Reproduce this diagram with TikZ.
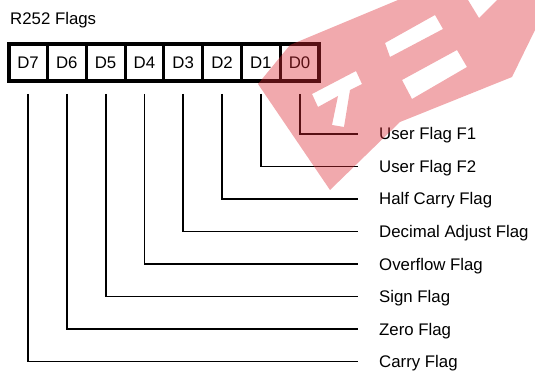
\documentclass[tikz,border=0pt]{standalone}
\usepackage{fontspec}
\setmainfont{Liberation Sans}
\usetikzlibrary{calc}
\definecolor{wm}{RGB}{220,40,50}
\begin{document}
\begin{tikzpicture}[x=1pt,y=-1pt,
  font=\fontsize{16.8}{20}\selectfont,
  cell/.style={draw, line width=3pt, minimum width=38.8pt, minimum height=37pt, inner sep=0pt, outer sep=0pt},
  flag/.style={anchor=west, inner sep=0pt, text height=12pt, text depth=0pt},
  conn/.style={line width=1.8pt}]
\useasboundingbox (0,0) rectangle (535,371);
\node[anchor=base west, inner sep=0pt] (title) at (10,24.5) {R252 Flags};
\foreach \i [count=\k from 0] in {7,6,5,4,3,2,1,0}
  \node[cell] (c\i) at ({28+38.8*\k},62.5) {D\i};
\draw[line width=4pt] (c7.north west) rectangle (c0.south east);
\foreach \i/\t/\y in {0/User Flag F1/134, 1/User Flag F2/166.5, 2/Half Carry Flag/199,
  3/Decimal Adjust Flag/231.5, 4/Overflow Flag/264, 5/Sign Flag/296.5,
  6/Zero Flag/329, 7/Carry Flag/361.5}
  \node[flag] (f\i) at (379,\y) {\t};
\foreach \i in {0,...,7}
  \draw[conn] ($(c\i.south)+(0,13)$) |- ([xshift=-21pt]f\i.west);
% watermark
\fill[wm, fill opacity=0.4, even odd rule]
  (258,84) -- (290,45) -- (398,0) -- (535,0) -- (535,30) -- (512,77) -- (400,122) -- (330,190) -- cycle
  (385,43) -- (435,15) -- (443,29) -- (390,57) -- cycle
  (402,80) -- (457,50) -- (467,67) -- (412,99) -- cycle
  (468,0) -- (497,0) -- (479,18) -- cycle
  (312,94) -- (356,71) -- (362,84) -- (350,90) -- (344,127) -- (332,125) -- (338,96) -- (318,107) -- cycle;
\end{tikzpicture}
\end{document}
